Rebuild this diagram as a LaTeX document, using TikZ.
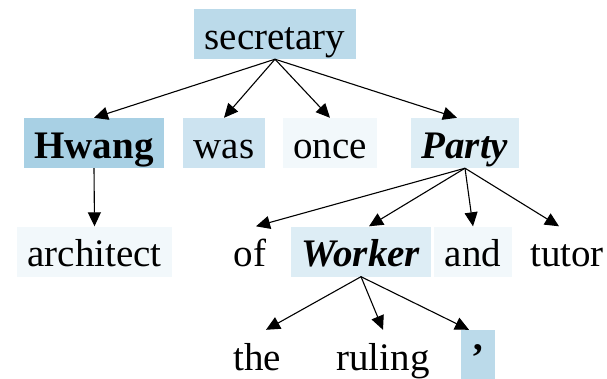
\documentclass[tikz,border=0pt]{standalone}
\usepackage{fontspec}
\setmainfont{Liberation Serif}
\usetikzlibrary{arrows.meta}

\definecolor{attA}{HTML}{A8D0E4}
\definecolor{attB}{HTML}{BBDAEA}
\definecolor{attC}{HTML}{CCE3F0}
\definecolor{attD}{HTML}{DDEDF5}
\definecolor{attE}{HTML}{F2F8FB}

\begin{document}
\begin{tikzpicture}[
    x=1pt, y=-1pt,
    word/.style={rectangle, inner xsep=10.5pt, inner ysep=0pt, minimum height=50pt,
        text height=40pt, text depth=10pt, font=\fontsize{39}{40}\selectfont},
    dep/.style={-{Triangle[length=14pt, width=13pt]}, line width=1.1pt}
]
    \useasboundingbox (0,0) rectangle (607,378);

    % Words
    \node[word, fill=attB] (secretary) at (275,34) {secretary};

    \node[word, fill=attA] (hwang) at (94,143) {\textbf{Hwang}};
    \node[word, fill=attC] (was) at (224,143) {was};
    \node[word, fill=attE] (once) at (330,143) {once};
    \node[word, fill=attD] (party) at (465,143) {\textbf{\textit{Party}}};

    \node[word, fill=attE] (architect) at (94.5,251.5) {architect};
    \node[word] (of) at (250,251.5) {of};
    \node[word, fill=attD] (worker) at (361,251.5) {\textbf{\textit{Worker}}};
    \node[word, fill=attE] (and) at (473,251.5) {and};
    \node[word] (tutor) at (567,251.5) {tutor};

    \node[word] (the) at (257,355) {the};
    \node[word] (ruling) at (383,355) {ruling};
    \node[word, fill=attB] (apos) at (478,355) {\textbf{’}};

    % Dependencies
    \draw[dep] (secretary.south) -- (hwang.north);
    \draw[dep] (secretary.south) -- (was.north);
    \draw[dep] (secretary.south) -- (once.north);
    \draw[dep] (secretary.south) -- ([xshift=-8pt]party.north);
    \draw[dep] (hwang.south) -- (architect.north);
    \draw[dep] (party.south) -- ([xshift=6pt]of.north);
    \draw[dep] (party.south) -- ([xshift=8pt]worker.north);
    \draw[dep] (party.south) -- (and.north);
    \draw[dep] (party.south) -- ([xshift=-8pt]tutor.north);
    \draw[dep] (worker.south) -- ([xshift=9pt]the.north);
    \draw[dep] (worker.south) -- (ruling.north);
    \draw[dep] (worker.south) -- ([xshift=-9pt]apos.north);

\end{tikzpicture}
\end{document}
